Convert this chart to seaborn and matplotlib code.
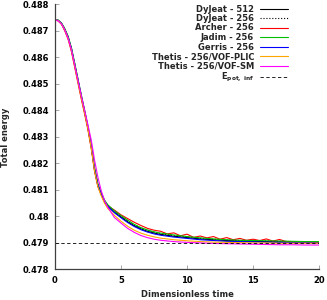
import matplotlib
matplotlib.use('Agg')
import matplotlib.pyplot as plt
import matplotlib.ticker as mticker
import seaborn as sns

# time grid shared by the smooth series
t = [0, 0.25, 0.5, 0.75, 1, 1.25, 1.5, 1.75, 2, 2.25, 2.5, 2.75, 3, 3.25, 3.5,
     3.75, 4, 4.5, 5, 5.5, 6, 6.5, 7, 7.5, 8, 9, 10, 11, 12, 13, 14, 15, 16,
     17, 18, 19, 20]

dyjeat_512 = [0.48743, 0.48740, 0.48728, 0.48705, 0.48676, 0.48630, 0.48570,
              0.48511, 0.48450, 0.48393, 0.48333, 0.48262, 0.48175, 0.48117,
              0.48084, 0.48055, 0.48039, 0.48016, 0.47998, 0.47980, 0.47965,
              0.47953, 0.47944, 0.47937, 0.47932, 0.47925, 0.47920, 0.47915,
              0.47912, 0.47909, 0.47907, 0.47906, 0.47905, 0.47904, 0.47903,
              0.47902, 0.47901]
dyjeat_256 = [0.48743, 0.48740, 0.48729, 0.48707, 0.48678, 0.48634, 0.48575,
              0.48515, 0.48455, 0.48398, 0.48338, 0.48268, 0.48182, 0.48122,
              0.48088, 0.48060, 0.48042, 0.48019, 0.48001, 0.47984, 0.47968,
              0.47956, 0.47947, 0.47940, 0.47935, 0.47928, 0.47922, 0.47917,
              0.47914, 0.47911, 0.47909, 0.47908, 0.47907, 0.47906, 0.47905,
              0.47904, 0.47903]
jadim_256 = [0.48744, 0.48741, 0.48730, 0.48709, 0.48680, 0.48637, 0.48578,
             0.48518, 0.48458, 0.48400, 0.48340, 0.48270, 0.48185, 0.48124,
             0.48090, 0.48062, 0.48044, 0.48021, 0.48003, 0.47986, 0.47970,
             0.47958, 0.47949, 0.47942, 0.47937, 0.47930, 0.47924, 0.47919,
             0.47915, 0.47912, 0.47910, 0.47909, 0.47908, 0.47907, 0.47906,
             0.47905, 0.47905]
gerris_256 = [0.48743, 0.48740, 0.48729, 0.48706, 0.48677, 0.48633, 0.48574,
              0.48514, 0.48453, 0.48396, 0.48336, 0.48265, 0.48178, 0.48118,
              0.48085, 0.48056, 0.48038, 0.48014, 0.47995, 0.47977, 0.47962,
              0.47950, 0.47941, 0.47934, 0.47929, 0.47922, 0.47917, 0.47912,
              0.47909, 0.47906, 0.47905, 0.47904, 0.47903, 0.47902, 0.47901,
              0.47901, 0.47900]
thetis_plic = [0.48743, 0.48739, 0.48727, 0.48704, 0.48673, 0.48628, 0.48568,
               0.48507, 0.48447, 0.48390, 0.48330, 0.48258, 0.48172, 0.48112,
               0.48078, 0.48050, 0.48030, 0.48004, 0.47982, 0.47963, 0.47948,
               0.47937, 0.47929, 0.47923, 0.47918, 0.47912, 0.47908, 0.47905,
               0.47903, 0.47902, 0.47901, 0.47900, 0.47900, 0.47899, 0.47899,
               0.47899, 0.47899]
thetis_sm = [0.48742, 0.48738, 0.48726, 0.48703, 0.48672, 0.48628, 0.48570,
             0.48512, 0.48455, 0.48400, 0.48345, 0.48288, 0.48212, 0.48148,
             0.48098, 0.48060, 0.48035, 0.47996, 0.47975, 0.47955, 0.47940,
             0.47928, 0.47920, 0.47914, 0.47910, 0.47905, 0.47902, 0.47900,
             0.47898, 0.47897, 0.47896, 0.47895, 0.47894, 0.47893, 0.47893,
             0.47892, 0.47892]

# Archer is noisy in the tail, own time grid
t_archer = [0, 0.25, 0.5, 0.75, 1, 1.25, 1.5, 1.75, 2, 2.25, 2.5, 2.75, 3,
            3.25, 3.5, 3.75, 4, 4.5, 5, 5.5, 6, 6.5, 7, 7.5, 8, 8.5, 9, 9.5,
            10, 10.5, 11, 11.5, 12, 12.5, 13, 13.5, 14, 14.5, 15, 15.5, 16,
            16.5, 17, 17.5, 18, 19, 20]
archer_256 = [0.48742, 0.48738, 0.48725, 0.48700, 0.48668, 0.48622, 0.48562,
              0.48502, 0.48442, 0.48386, 0.48326, 0.48256, 0.48170, 0.48113,
              0.48082, 0.48056, 0.48040, 0.48024, 0.48006, 0.47992, 0.47978,
              0.47966, 0.47955, 0.47948, 0.47944, 0.47934, 0.47938, 0.47927,
              0.47933, 0.47921, 0.47926, 0.47919, 0.47924, 0.47914, 0.47920,
              0.47912, 0.47917, 0.47910, 0.47914, 0.47909, 0.47915, 0.47907,
              0.47913, 0.47905, 0.47903, 0.47902, 0.47901]

e_pot_inf = 0.479
t_ref = [0, 20]

x_ticks = [0, 5, 10, 15, 20]
y_ticks = [0.478, 0.479, 0.480, 0.481, 0.482, 0.483, 0.484, 0.485, 0.486,
           0.487, 0.488]

sns.set_style('ticks')
plt.rcParams['font.family'] = 'DejaVu Sans'
plt.rcParams['font.weight'] = 'bold'
plt.rcParams['axes.labelweight'] = 'bold'
plt.rcParams['font.size'] = 6
plt.rcParams['mathtext.fontset'] = 'dejavusans'

fig = plt.figure(figsize=(3.27, 3.0), dpi=100)
ax = fig.add_axes([0.168, 0.102, 0.808, 0.883])

lw = 0.8
sns.lineplot(x=t, y=dyjeat_512, ax=ax, color='black', linewidth=lw, label='DyJeat - 512')
sns.lineplot(x=t, y=dyjeat_256, ax=ax, color='black', linewidth=lw, linestyle=':', label='DyJeat - 256')
sns.lineplot(x=t_archer, y=archer_256, ax=ax, color='#ff0000', linewidth=lw, label='Archer - 256')
sns.lineplot(x=t, y=jadim_256, ax=ax, color='#00c000', linewidth=lw, label='Jadim - 256')
sns.lineplot(x=t, y=gerris_256, ax=ax, color='#0000ff', linewidth=lw, label='Gerris - 256')
sns.lineplot(x=t, y=thetis_plic, ax=ax, color='#ffa500', linewidth=lw, label='Thetis - 256/VOF-PLIC')
sns.lineplot(x=t, y=thetis_sm, ax=ax, color='#ff00ff', linewidth=lw, label='Thetis - 256/VOF-SM')
sns.lineplot(x=t_ref, y=[e_pot_inf, e_pot_inf], ax=ax, color='black', linewidth=0.6,
             linestyle=(0, (4, 3)), label=r'E$_\mathbf{pot,\ inf}$')

ax.set_xlim(0, 20)
ax.set_ylim(0.478, 0.488)
ax.set_xticks(x_ticks)
ax.set_yticks(y_ticks)
ax.yaxis.set_major_formatter(mticker.FormatStrFormatter('%g'))
ax.set_xlabel('Dimensionless time', fontsize=6, labelpad=3)
ax.set_ylabel('Total energy', fontsize=6, labelpad=9)

sns.despine(ax=ax)
for s in ['left', 'bottom']:
    ax.spines[s].set_color('#404040')
    ax.spines[s].set_linewidth(0.9)
ax.tick_params(axis='both', direction='in', length=3, width=0.6, color='#999999',
               labelsize=6, labelcolor='black')
ax.tick_params(axis='y', pad=4)
ax.tick_params(axis='x', pad=5)

ax.legend(loc='upper right', bbox_to_anchor=(0.883, 1.0), frameon=False,
          markerfirst=False, handlelength=3.4, handletextpad=0.7,
          labelspacing=0.06, borderpad=0, borderaxespad=0, fontsize=6)

fig.savefig('out.png', dpi=100)
